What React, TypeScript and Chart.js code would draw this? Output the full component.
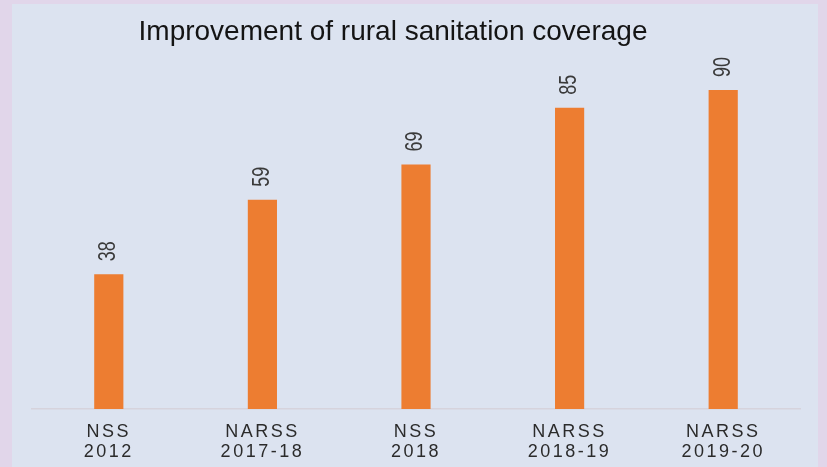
import React, { useEffect, useRef } from "react";
import { Chart, registerables } from "chart.js";

Chart.register(...registerables);

const categories: string[][] = [
  ["NSS", "2012"],
  ["NARSS", "2017-18"],
  ["NSS", "2018"],
  ["NARSS", "2018-19"],
  ["NARSS", "2019-20"],
];
const coverage: number[] = [38, 59, 69, 85, 90];
const chartTitle = "Improvement of rural sanitation coverage";

const titlePlugin = {
  id: "customTitle",
  beforeDraw(chart: any) {
    const ctx = chart.ctx;
    ctx.save();
    ctx.font = '28px "Liberation Sans", Arial, sans-serif';
    ctx.fillStyle = "#141414";
    ctx.textAlign = "center";
    ctx.textBaseline = "alphabetic";
    ctx.fillText(chartTitle, 381, 36);
    ctx.restore();
    ctx.letterSpacing = "2.5px";
  },
  beforeDatasetsDraw(chart: any) {
    chart.ctx.letterSpacing = "0px";
  },
  afterDatasetsDraw(chart: any) {
    const ctx = chart.ctx;
    const meta = chart.getDatasetMeta(0);
    const data = chart.data.datasets[0].data;
    ctx.save();
    ctx.font = '23px "Liberation Sans", Arial, sans-serif';
    ctx.fillStyle = "#3a3a3a";
    ctx.textAlign = "left";
    ctx.textBaseline = "middle";
    meta.data.forEach((bar: any, i: number) => {
      ctx.save();
      ctx.translate(bar.x, bar.y - 13);
      ctx.rotate(-Math.PI / 2);
      ctx.scale(0.78, 1);
      ctx.fillText(String(data[i]), 0, 0);
      ctx.restore();
    });
    ctx.restore();
  },
};

export default function App() {
  const ref = useRef<HTMLCanvasElement | null>(null);
  useEffect(() => {
    if (!ref.current) return;
    const chart = new Chart(ref.current, {
      type: "bar",
      data: {
        labels: categories,
        datasets: [
          {
            data: coverage,
            backgroundColor: "#ED7D31",
            borderWidth: 0,
            barPercentage: 0.19,
            categoryPercentage: 1,
          },
        ],
      },
      options: {
        animation: false,
        responsive: false,
        maintainAspectRatio: false,
        layout: { padding: { left: 20, right: 18, top: 50.5, bottom: 0 } },
        plugins: {
          legend: { display: false },
          title: { display: false },
          tooltip: { enabled: false },
        },
        scales: {
          x: {
            grid: { display: false, drawTicks: false },
            border: { display: true, color: "#d6d3dc", width: 1.5 },
            afterFit(scale: any) {
              scale.height = 58;
            },
            ticks: {
              color: "#2b2b2b",
              padding: 13,
              font: { family: '"Liberation Sans", Arial, sans-serif', size: 18, lineHeight: "20px" },
              maxRotation: 0,
              autoSkip: false,
            },
          },
          y: {
            display: false,
            min: 0,
            max: 100,
          },
        },
      },
      plugins: [titlePlugin],
    });
    return () => chart.destroy();
  }, []);

  return (
    <div style={{ position: "fixed", left: 0, top: 0, width: 827, height: 467, background: "#e1d6ea", overflow: "hidden" }}>
      <div style={{ position: "absolute", left: 12, top: 4, width: 806, height: 463, background: "#dce3f0" }}>
        <canvas ref={ref} width={806} height={463} style={{ display: "block", width: 806, height: 463 }} />
      </div>
    </div>
  );
}
